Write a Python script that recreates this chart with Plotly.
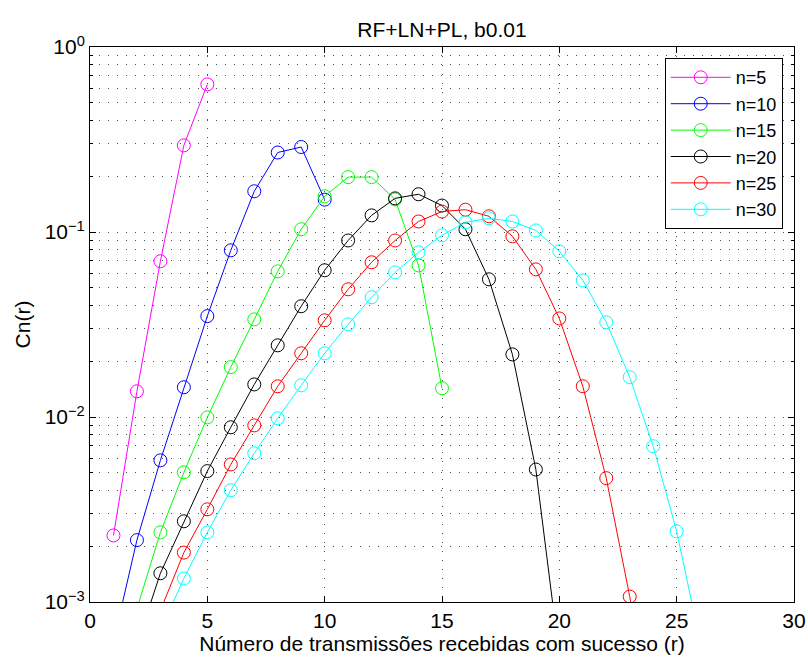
import plotly.graph_objects as go

title_text = "RF+LN+PL, b0.01"
x_label = "Número de transmissões recebidas com sucesso (r)"
y_label = "Cn(r)"

names = ["n=5", "n=10", "n=15", "n=20", "n=25", "n=30"]
colors = ["#FF00FF", "#0000FF", "#00FF00", "#000000", "#FF0000", "#00FFFF"]

r5 = [1, 2, 3, 4, 5]
c5 = [0.00229, 0.01377, 0.0695, 0.294, 0.628]

r10 = list(range(1, 11))
c10 = [6.1e-4, 0.00216, 0.00583, 0.01448, 0.0351, 0.0796, 0.166, 0.269, 0.288, 0.1496]

r15 = list(range(1, 16))
c15 = [3.0e-4, 9.2e-4, 0.00238, 0.00502, 0.00995, 0.0186, 0.0337, 0.0613, 0.1035,
       0.156, 0.198, 0.198, 0.150, 0.066, 0.0143]

r20 = list(range(1, 21))
c20 = [2.0e-4, 5.9e-4, 0.00143, 0.00273, 0.0051, 0.0088, 0.0150, 0.0244, 0.0397, 0.0621,
       0.090, 0.123, 0.152, 0.160, 0.139, 0.1035, 0.0555, 0.0218, 0.0052, 5.1e-4]

r25 = list(range(1, 26))
c25 = [1.4e-4, 4.0e-4, 9.0e-4, 0.00185, 0.00317, 0.00554, 0.00901, 0.01466, 0.0221, 0.0333,
       0.049, 0.0686, 0.090, 0.114, 0.129, 0.132, 0.1216, 0.0948, 0.0628, 0.0341,
       0.01466, 0.00467, 0.00107, 1.8e-4, 1.5e-5]

r30 = list(range(1, 31))
c30 = [1.6e-4, 3.5e-4, 7.0e-4, 0.00134, 0.00238, 0.00402, 0.00637, 0.00984, 0.01483, 0.0221,
       0.0317, 0.0444, 0.0605, 0.0776, 0.096, 0.1128, 0.1186, 0.114, 0.102, 0.0787,
       0.0548, 0.0325, 0.0164, 0.00695, 0.00241, 6.1e-4, 1.1e-4, 1.5e-5, 1e-6, 1e-8]

x_ticks = [0, 5, 10, 15, 20, 25, 30]
y_ticks = [1e-3, 1e-2, 1e-1, 1]
y_ticktext = ["10<sup>−3</sup>", "10<sup>−2</sup>", "10<sup>−1</sup>", "10<sup>0</sup>"]
y_minor = [k * 10.0 ** e for e in (-3, -2, -1) for k in range(2, 10)]

series = [(r5, c5), (r10, c10), (r15, c15), (r20, c20), (r25, c25), (r30, c30)]

FONT = "Liberation Sans, Arial, sans-serif"
GRID = "#505050"
DASH = "1px,8px"

fig = go.Figure()
for (rx, cy), name, col in zip(series, names, colors):
    fig.add_trace(go.Scatter(
        x=rx, y=cy, name=name, mode="lines+markers",
        line=dict(color=col, width=1),
        marker=dict(symbol="circle-open", size=13, color=col, line=dict(width=1, color=col)),
    ))

fig.update_layout(
    width=808, height=658,
    margin=dict(l=90, r=14, t=47, b=56, pad=0, autoexpand=False),
    paper_bgcolor="white", plot_bgcolor="white",
    font=dict(family=FONT, size=21, color="black"),
    title=dict(text=title_text, x=(90 + 794) / 2 / 808, xanchor="center",
               yref="paper", y=1, yanchor="bottom", pad=dict(b=10),
               font=dict(family=FONT, size=21, color="black")),
    showlegend=True,
    legend=dict(x=0.984, xanchor="right", y=0.98, yanchor="top",
                bordercolor="black", borderwidth=1, bgcolor="white",
                font=dict(family=FONT, size=18), itemwidth=60,
                tracegroupgap=0),
)

fig.update_xaxes(
    range=[0, 30], tickvals=x_ticks, ticks="inside", ticklen=6, tickcolor="black",
    showline=True, linecolor="black", linewidth=1, mirror="allticks",
    showgrid=True, gridcolor=GRID, griddash=DASH, gridwidth=1, zeroline=False,
    automargin=False,
    title=dict(text=x_label, font=dict(size=21), standoff=4),
    tickfont=dict(size=21),
)
fig.update_yaxes(
    type="log", range=[-3, 0], tickvals=y_ticks, ticktext=y_ticktext,
    ticks="inside", ticklen=6, tickcolor="black",
    showline=True, linecolor="black", linewidth=1, mirror="allticks",
    showgrid=True, gridcolor=GRID, griddash=DASH, gridwidth=1, zeroline=False,
    automargin=False,
    minor=dict(tickvals=y_minor, ticks="inside", ticklen=3, tickcolor="black",
               showgrid=True, gridcolor=GRID, griddash=DASH, gridwidth=1),
    title=dict(text=y_label, font=dict(size=21), standoff=8),
    tickfont=dict(size=21),
)

fig.write_html("out.html")
